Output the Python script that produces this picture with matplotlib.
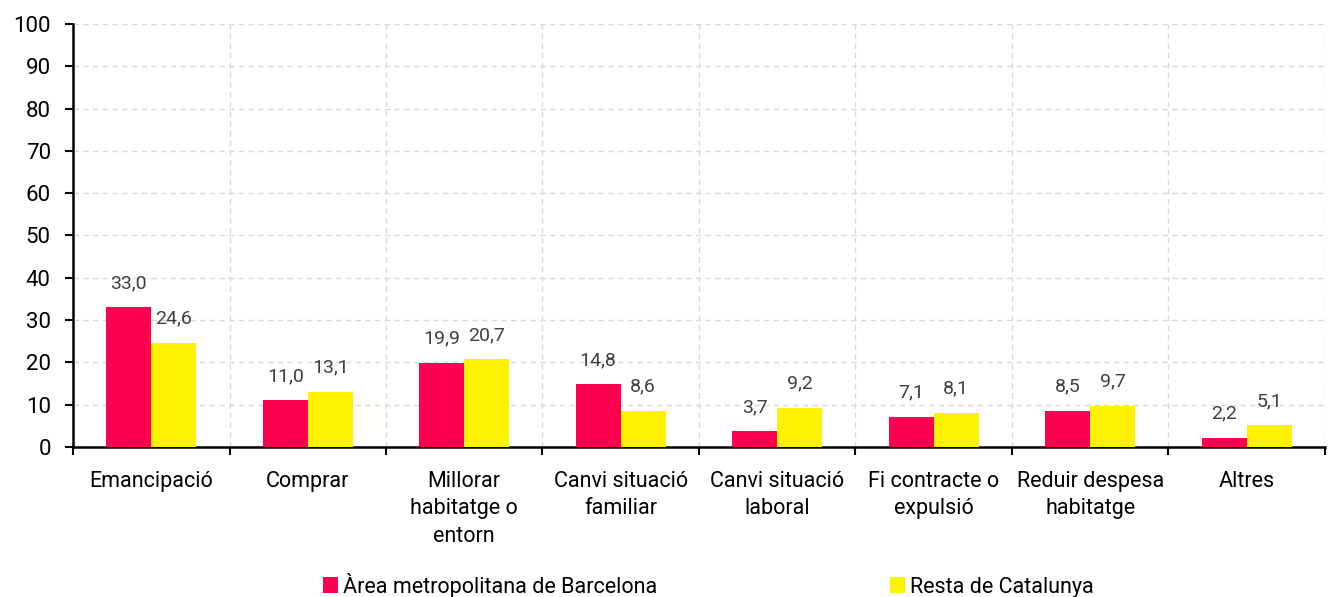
import numpy as np
import matplotlib.pyplot as plt
from matplotlib.patches import Patch

# data
categories = ["Emancipació", "Comprar", "Millorar\nhabitatge o\nentorn",
              "Canvi situació\nfamiliar", "Canvi situació\nlaboral",
              "Fi contracte o\nexpulsió", "Reduir despesa\nhabitatge", "Altres"]
amb = [33.0, 11.0, 19.9, 14.8, 3.7, 7.1, 8.5, 2.2]
resta = [24.6, 13.1, 20.7, 8.6, 9.2, 8.1, 9.7, 5.1]
series_names = ["Àrea metropolitana de Barcelona", "Resta de Catalunya"]

RED = "#FF0050"
YELLOW = "#FFF200"

plt.rcParams["font.family"] = ["Roboto", "DejaVu Sans"]

fig = plt.figure(figsize=(13.3, 5.97), dpi=100)
ax = fig.add_axes([0.0549, 0.2513, 0.9413, 0.7085])

x = np.arange(len(categories))
w = 0.2875
b1 = ax.bar(x - w / 2, amb, w, color=RED, zorder=3)
b2 = ax.bar(x + w / 2, resta, w, color=YELLOW, zorder=3)

for bars in (b1, b2):
    for r in bars:
        v = r.get_height()
        ax.annotate(f"{v:.1f}".replace(".", ","),
                    (r.get_x() + r.get_width() / 2, v),
                    xytext=(0, 11), textcoords="offset points",
                    ha="center", va="bottom", fontsize=14, color="#404040")

ax.set_xlim(-0.5, len(categories) - 0.5)
ax.set_ylim(0, 100)
ax.set_yticks(np.arange(0, 101, 10))
ax.tick_params(axis="y", labelsize=16, length=6, width=1.5, pad=10, direction="out")

ax.set_xticks(x)
ax.set_xticklabels(categories, fontsize=15.5, linespacing=1.43)
ax.tick_params(axis="x", which="major", length=0, pad=17)
ax.set_xticks(np.arange(-0.5, len(categories)), minor=True)
ax.tick_params(axis="x", which="minor", length=6, width=1.5, direction="out")

ax.grid(axis="y", which="major", color="#d9d9d9", linestyle=(0, (4, 3)), linewidth=1, zorder=0)
ax.grid(axis="x", which="minor", color="#d9d9d9", linestyle=(0, (4, 3)), linewidth=1, zorder=0)
ax.grid(axis="x", which="major", visible=False)

for s in ("top", "right"):
    ax.spines[s].set_visible(False)
ax.spines["left"].set_linewidth(1.8)
ax.spines["bottom"].set_linewidth(1.8)

handles = [Patch(facecolor=RED, label=series_names[0]),
           Patch(facecolor=YELLOW, label=series_names[1])]
fig.legend(handles=handles, loc="center left", bbox_to_anchor=(0.228, 0.02),
           ncol=2, frameon=False, handlelength=0.7, handleheight=0.7,
           handletextpad=0.25, columnspacing=10.8,
           prop={"size": 15.5})

fig.savefig("out.png", dpi=100)
